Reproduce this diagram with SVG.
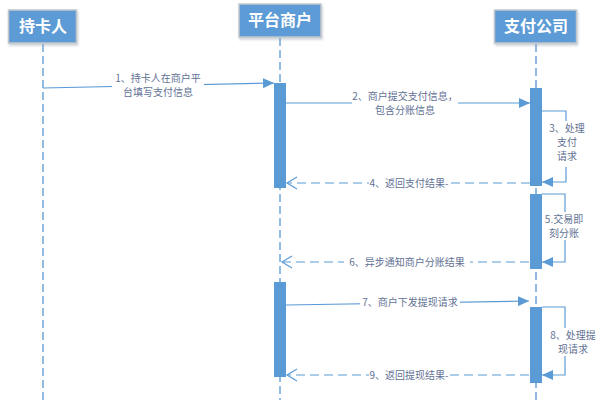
<svg xmlns="http://www.w3.org/2000/svg" width="604" height="400" viewBox="0 0 604 400">
<defs>
<style>
.actor{fill:#5b9bd5;stroke:#c3c7cc;stroke-width:1.5}
.at{font-family:"Noto Sans CJK SC","Liberation Sans",sans-serif;font-weight:bold;font-size:16px;fill:#ffffff;text-anchor:middle}
.life{stroke:#6fa5dc;stroke-width:1.5;stroke-dasharray:8 4;fill:none}
.bar{fill:#5b9bd5}
.msg{stroke:#5b9bd5;stroke-width:1.2;fill:none}
.ret{stroke:#5b9bd5;stroke-width:1.2;fill:none;stroke-dasharray:9 5}
.lbl{font-family:"Noto Sans CJK SC","Liberation Sans",sans-serif;font-size:10px;fill:#5f7194;text-anchor:middle}
.bg{fill:#ffffff}
.oa{fill:none;stroke:#5b9bd5;stroke-width:1.2}
</style>
<marker id="fa" markerWidth="12" markerHeight="10" refX="11" refY="5" orient="auto" markerUnits="userSpaceOnUse">
<path d="M0,0 L11,5 L0,10 Z" fill="#5b9bd5"/>
</marker>
<filter id="sh" x="-10%" y="-10%" width="130%" height="140%">
<feDropShadow dx="1" dy="2" stdDeviation="1.2" flood-color="#9aa6b2" flood-opacity="0.5"/>
</filter>
</defs>
<rect width="604" height="400" fill="#ffffff"/>
<g id="lifelines">
<line class="life" x1="43" y1="44" x2="43" y2="400"/>
<line class="life" x1="280" y1="38" x2="280" y2="400"/>
<line class="life" x1="536" y1="44" x2="536" y2="400"/>
</g>
<g id="actor-cardholder">
<rect class="actor" x="8.5" y="10" width="68" height="33" filter="url(#sh)"/>
<text class="at" x="43" y="32">持卡人</text>
</g>
<g id="actor-merchant">
<rect class="actor" x="239" y="4" width="82" height="33" filter="url(#sh)"/>
<text class="at" x="280" y="26">平台商户</text>
</g>
<g id="actor-payco">
<rect class="actor" x="494.5" y="10" width="82" height="33" filter="url(#sh)"/>
<text class="at" x="536" y="32">支付公司</text>
</g>
<g id="activations">
<rect class="bar" x="274" y="83" width="12" height="105"/>
<rect class="bar" x="530" y="88" width="12" height="98"/>
<rect class="bar" x="530" y="194" width="12" height="75"/>
<rect class="bar" x="274" y="282" width="12" height="95"/>
<rect class="bar" x="530" y="307" width="12" height="76"/>
</g>
<g id="connectors">
<path class="msg" d="M43,88 L274,83" marker-end="url(#fa)"/>
<path class="msg" d="M286,103 L530,103" marker-end="url(#fa)"/>
<path class="msg" d="M542,111 L566,111 L566,182 L542,182" marker-end="url(#fa)"/>
<path class="ret" d="M530,183 L287,183"/>
<path class="oa" d="M297,177 L287,183 L297,189"/>
<path class="msg" d="M542,194 L565,194 L565,262 L542,262" marker-end="url(#fa)"/>
<path class="ret" d="M529,262 L282,262"/>
<path class="oa" d="M292,256 L282,262 L292,268"/>
<path class="msg" d="M286,305 L529,301" marker-end="url(#fa)"/>
<path class="msg" d="M542,307 L565,307 L565,375 L542,375" marker-end="url(#fa)"/>
<path class="ret" d="M529,375 L287,375"/>
<path class="oa" d="M297,369 L287,375 L297,381"/>
</g>
<g id="labels">
<rect class="bg" x="112" y="72" width="92" height="26"/>
<text class="lbl" x="158" y="82">1、持卡人在商户平</text>
<text class="lbl" x="158" y="96">台填写支付信息</text>
<rect class="bg" x="352" y="90" width="106" height="26"/>
<text class="lbl" x="405" y="100">2、商户提交支付信息，</text>
<text class="lbl" x="405" y="114">包含分账信息</text>
<rect class="bg" x="548" y="121" width="38" height="46"/>
<text class="lbl" x="567" y="132">3、处理</text>
<text class="lbl" x="567" y="146">支付</text>
<text class="lbl" x="567" y="160">请求</text>
<rect class="bg" x="369" y="177" width="80" height="12"/>
<text class="lbl" x="409" y="187">4、返回支付结果-</text>
<rect class="bg" x="544" y="212" width="40" height="28"/>
<text class="lbl" x="564" y="223">5.交易即</text>
<text class="lbl" x="564" y="237">刻分账</text>
<rect class="bg" x="344" y="256" width="126" height="12"/>
<text class="lbl" x="407" y="266">6、异步通知商户分账结果</text>
<rect class="bg" x="360" y="296" width="100" height="12"/>
<text class="lbl" x="410" y="306">7、商户下发提现请求</text>
<rect class="bg" x="547" y="328" width="52" height="28"/>
<text class="lbl" x="573" y="339">8、处理提</text>
<text class="lbl" x="573" y="353">现请求</text>
<rect class="bg" x="369" y="369" width="80" height="12"/>
<text class="lbl" x="409" y="379">9、返回提现结果-</text>
</g>
</svg>
